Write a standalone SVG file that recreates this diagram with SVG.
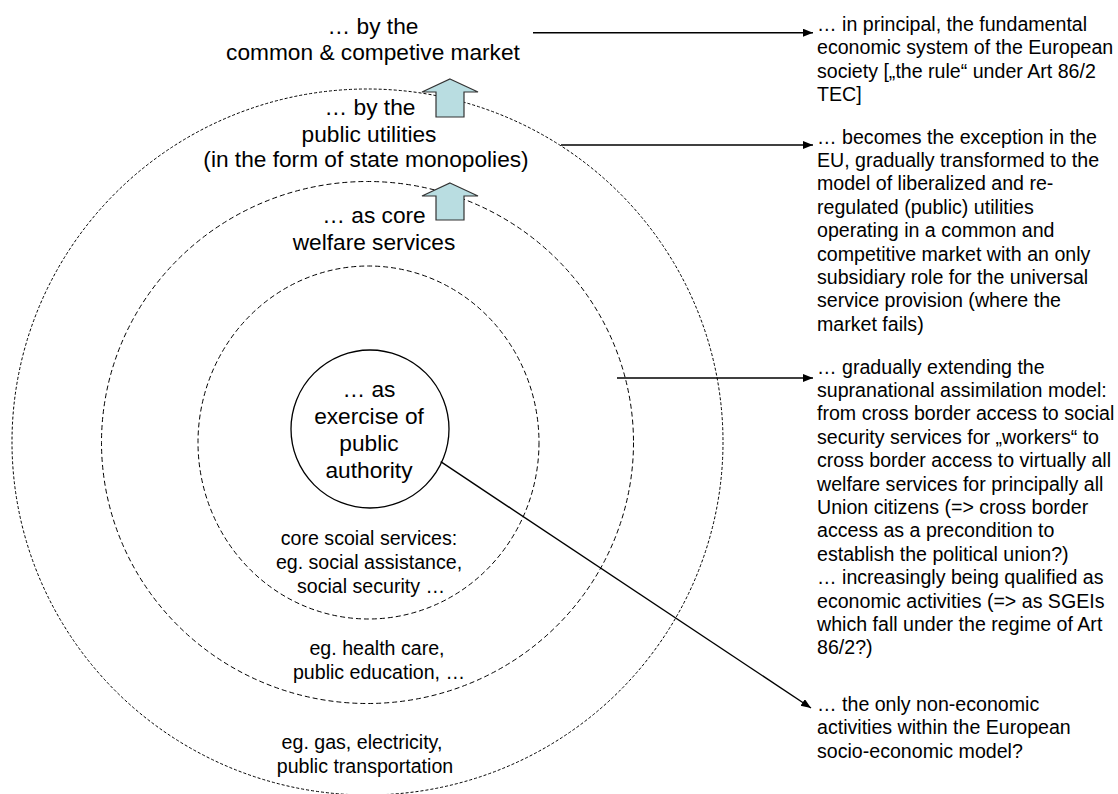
<svg xmlns="http://www.w3.org/2000/svg" width="1118" height="794" viewBox="0 0 1118 794">
<style>
text{font-family:"Liberation Sans",Arial,sans-serif;fill:#000}
.lbl{font-size:22.7px;text-anchor:middle}
.sm{font-size:19.6px;text-anchor:middle}
.rt{font-size:19.6px}
.ring1{fill:none;stroke:#000;stroke-width:1;stroke-dasharray:3 2}
.ring2{fill:none;stroke:#000;stroke-width:1;stroke-dasharray:5 3}
.con{stroke:#000;stroke-width:1.4;fill:none;marker-end:url(#ah)}
.blk{fill:#B9DDE1;stroke:#333;stroke-width:1.2}
</style>
<defs>
<marker id="ah" markerUnits="userSpaceOnUse" markerWidth="11" markerHeight="9" refX="10" refY="4" orient="auto">
<path d="M0,0 L10,4 L0,8 Z" fill="#000"/>
</marker>
</defs>
<rect width="1118" height="794" fill="#fff"/>

<g id="ring-utilities">
<ellipse class="ring1" cx="367.5" cy="442" rx="355.5" ry="353"/>
</g>
<g id="ring-welfare">
<ellipse class="ring2" cx="367.5" cy="442.5" rx="266" ry="261"/>
</g>
<g id="ring-core">
<ellipse class="ring2" cx="368.5" cy="442.5" rx="170.5" ry="176.5"/>
</g>
<g id="center-authority">
<circle cx="370" cy="429" r="79" fill="none" stroke="#000" stroke-width="1.3"/>
<text class="lbl" x="369" y="397">… as</text>
<text class="lbl" x="369" y="424">exercise of</text>
<text class="lbl" x="369" y="451">public</text>
<text class="lbl" x="369" y="478">authority</text>
</g>

<g id="label-market">
<text class="lbl" x="373" y="34">… by the</text>
<text class="lbl" x="373" y="60">common &amp; competive market</text>
</g>
<g id="label-utilities">
<text class="lbl" x="370" y="115">… by the</text>
<text class="lbl" x="369" y="141.5">public utilities</text>
<text class="lbl" x="366" y="167">(in the form of state monopolies)</text>
</g>
<g id="label-welfare">
<text class="lbl" x="374" y="223">… as core</text>
<text class="lbl" x="374" y="250">welfare services</text>
</g>
<g id="label-core-examples">
<text class="sm" x="369" y="545">core scoial services:</text>
<text class="sm" x="369" y="569">eg. social assistance,</text>
<text class="sm" x="371" y="593">social security …</text>
</g>
<g id="label-welfare-examples">
<text class="sm" x="377" y="655">eg. health care,</text>
<text class="sm" x="379" y="678.5">public education, …</text>
</g>
<g id="label-utilities-examples">
<text class="sm" x="362" y="749">eg. gas, electricity,</text>
<text class="sm" x="365" y="772.5">public transportation</text>
</g>

<g id="arrow-up-1">
<path class="blk" d="M450,79 L478,92 L464,92 L464,117 L436,117 L436,92 L422,92 Z"/>
</g>
<g id="arrow-up-2">
<path class="blk" d="M450,183 L478,196 L464,196 L464,220 L436,220 L436,196 L422,196 Z"/>
</g>

<g id="note-market">
<text class="rt" x="817" y="31">… in principal, the fundamental</text>
<text class="rt" x="817" y="54.4">economic system of the European</text>
<text class="rt" x="817" y="77.8">society [„the rule“ under Art 86/2</text>
<text class="rt" x="817" y="101.2">TEC]</text>
</g>
<g id="note-utilities">
<text class="rt" x="817" y="143.5">… becomes the exception in the</text>
<text class="rt" x="817" y="166.9">EU, gradually transformed to the</text>
<text class="rt" x="817" y="190.3">model of liberalized and re-</text>
<text class="rt" x="817" y="213.7">regulated (public) utilities</text>
<text class="rt" x="817" y="237.1">operating in a common and</text>
<text class="rt" x="817" y="260.5">competitive market with an only</text>
<text class="rt" x="817" y="283.9">subsidiary role for the universal</text>
<text class="rt" x="817" y="307.3">service provision (where the</text>
<text class="rt" x="817" y="330.7">market fails)</text>
</g>
<g id="note-welfare">
<text class="rt" x="817" y="373.5">… gradually extending the</text>
<text class="rt" x="817" y="396.9">supranational assimilation model:</text>
<text class="rt" x="817" y="420.3">from cross border access to social</text>
<text class="rt" x="817" y="443.7">security services for „workers“ to</text>
<text class="rt" x="817" y="467.1">cross border access to virtually all</text>
<text class="rt" x="817" y="490.5">welfare services for principally all</text>
<text class="rt" x="817" y="513.9">Union citizens (=&gt; cross border</text>
<text class="rt" x="817" y="537.3">access as a precondition to</text>
<text class="rt" x="817" y="560.7">establish the political union?)</text>
<text class="rt" x="817" y="584.1">… increasingly being qualified as</text>
<text class="rt" x="817" y="607.5">economic activities (=&gt; as SGEIs</text>
<text class="rt" x="817" y="630.9">which fall under the regime of Art</text>
<text class="rt" x="817" y="654.3">86/2?)</text>
</g>
<g id="note-authority">
<text class="rt" x="817" y="711">… the only non-economic</text>
<text class="rt" x="817" y="734.4">activities within the European</text>
<text class="rt" x="817" y="757.8">socio-economic model?</text>
</g>

<g id="connectors">
<line class="con" x1="533" y1="32.7" x2="813" y2="32.7"/>
<line class="con" x1="561" y1="145" x2="813" y2="145"/>
<line class="con" x1="617" y1="378" x2="813" y2="378"/>
<line class="con" x1="440.7" y1="461.7" x2="811" y2="708"/>
</g>
</svg>
